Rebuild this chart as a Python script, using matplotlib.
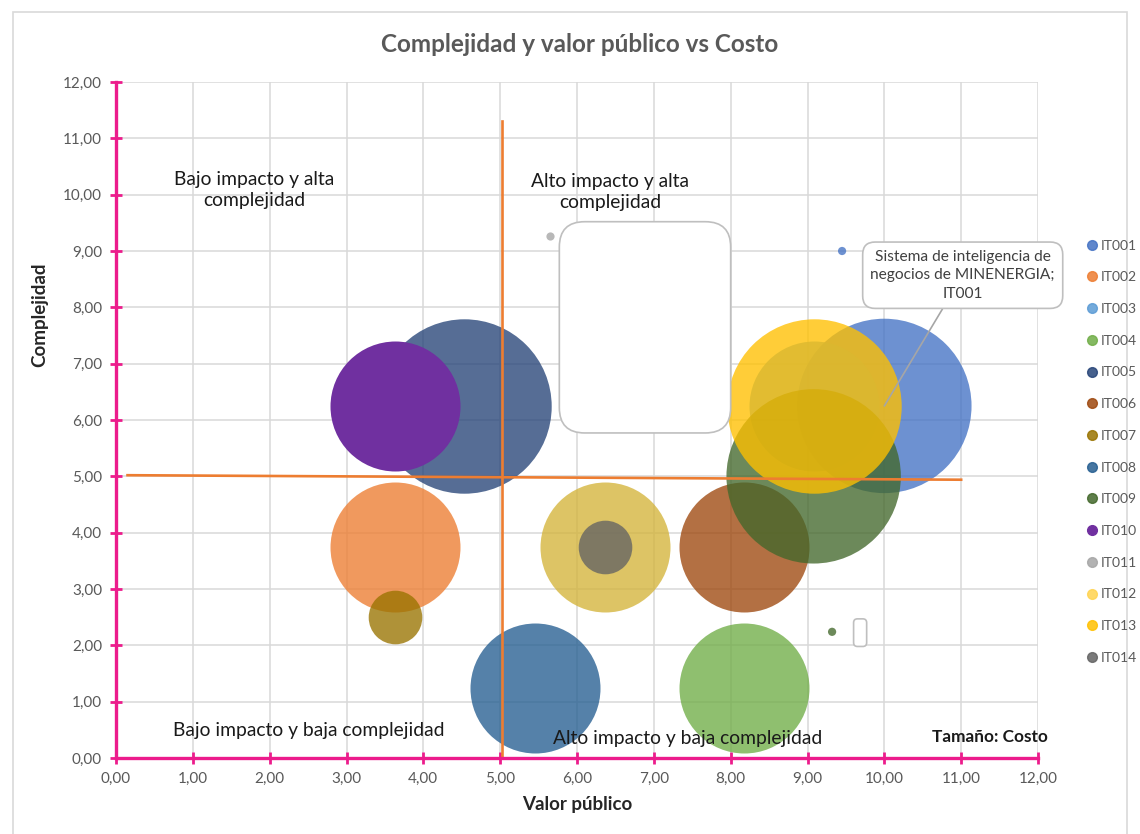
import numpy as np
import matplotlib.pyplot as plt
from matplotlib.lines import Line2D
from matplotlib.patches import FancyBboxPatch, Rectangle

plt.rcParams['font.family'] = ['Lato', 'DejaVu Sans']

# Series (proyectos) y colores de la leyenda
series = ['IT001', 'IT002', 'IT003', 'IT004', 'IT005', 'IT006', 'IT007',
          'IT008', 'IT009', 'IT010', 'IT011', 'IT012', 'IT013', 'IT014']
colores = ['#4472C4', '#ED7D31', '#5B9BD5', '#70AD47', '#264478', '#9E480E', '#997300',
           '#255E91', '#43682B', '#7030A0', '#A5A5A5', '#FFD34F', '#FFC000', '#636363']
# la burbuja de IT012 tiene un relleno distinto al de la leyenda
relleno_burbuja = {'IT012': '#D4B43A'}

# Puntos: serie, valor público (x), complejidad (y), costo (tamaño)
punto_serie = ['IT001', 'IT001', 'IT002', 'IT003', 'IT004', 'IT005', 'IT006', 'IT007',
               'IT008', 'IT009', 'IT009', 'IT010', 'IT011', 'IT012', 'IT013', 'IT014']
valor_publico = [10.0, 9.45, 3.63, 9.08, 8.17, 4.53, 8.17, 3.63,
                 5.45, 9.08, 9.32, 3.63, 5.65, 6.36, 9.08, 6.36]
complejidad = [6.25, 9.0, 3.75, 6.25, 1.25, 6.25, 3.75, 2.5,
               1.25, 5.0, 2.24, 6.25, 9.27, 3.75, 6.25, 3.75]
costo = [1800, 4, 1000, 1000, 1000, 1800, 1000, 170,
         1000, 1800, 4, 1000, 4, 1000, 1800, 170]

# Líneas que separan los cuadrantes
linea_h_x = [0.15, 11.0]
linea_h_y = [5.02, 4.94]
linea_v_x = [5.02, 5.02]
linea_v_y = [0.0, 11.3]

rosa = '#EC1C8C'
gris_texto = '#595959'

fig = plt.figure(figsize=(11.4, 8.34), dpi=100)
fig.patches.append(Rectangle((13 / 1140, -0.01), 1114 / 1140, 1 - 12 / 834 + 0.01,
                             transform=fig.transFigure, fill=False,
                             edgecolor='#D9D9D9', linewidth=1.2))
ax = fig.add_axes([116 / 1140, 76 / 834, 922 / 1140, 676 / 834])

# área de la burbuja proporcional al costo (costo 1000 -> radio de 65 px)
escala = (2 * 65 * 72 / 100) ** 2 / 1000
x = np.array(valor_publico)
y = np.array(complejidad)
c = np.array(costo)
serie_arr = np.array(punto_serie)
for nombre, col in zip(series, colores):
    m = serie_arr == nombre
    alfa = 1.0 if nombre == 'IT010' else 0.78
    ax.scatter(x[m], y[m], s=c[m] * escala, color=relleno_burbuja.get(nombre, col),
               alpha=alfa, linewidths=0, zorder=3)

ax.plot(linea_h_x, linea_h_y, color='#ED7D31', lw=1.9, zorder=5)
ax.plot(linea_v_x, linea_v_y, color='#ED7D31', lw=1.9, zorder=5)

# recuadros vacíos de etiquetas
for (bx, by, bw, bh, r) in [(5.77, 5.77, 2.23, 3.75, 0.33), (9.6, 1.98, 0.17, 0.49, 0.05)]:
    ax.add_patch(FancyBboxPatch((bx, by), bw, bh,
                                boxstyle=f'round,pad=0,rounding_size={r}',
                                mutation_aspect=76.8 / 56.33, facecolor='white',
                                edgecolor='#BFBFBF', linewidth=1.2, zorder=6))

ax.annotate('Sistema de inteligencia de\nnegocios de MINENERGIA;\nIT001',
            xy=(10.0, 6.25), xytext=(11.02, 8.57), ha='center', va='center',
            fontsize=11.2, color='#404040', linespacing=1.4, zorder=7,
            bbox=dict(boxstyle='round,pad=0.5,rounding_size=0.8', fc='white',
                      ec='#BFBFBF', lw=1.2),
            arrowprops=dict(arrowstyle='-', color='#A6A6A6', lw=1.2,
                            shrinkA=0, shrinkB=0))

# textos de cuadrante
ax.text(1.80, 10.08, 'Bajo impacto y alta\ncomplejidad', ha='center', va='center',
        fontsize=13.9, color='#1a1a1a', linespacing=1.3)
ax.text(6.43, 10.05, 'Alto impacto y alta\ncomplejidad', ha='center', va='center',
        fontsize=13.9, color='#1a1a1a', linespacing=1.3)
ax.text(0.74, 0.48, 'Bajo impacto y baja complejidad', ha='left', va='center',
        fontsize=13.9, color='#1a1a1a')
ax.text(5.69, 0.34, 'Alto impacto y baja complejidad', ha='left', va='center',
        fontsize=13.9, color='#1a1a1a', zorder=8)
ax.text(10.62, 0.37, 'Tamaño: Costo', ha='left', va='center', fontsize=12.4,
        fontweight='bold', color='#1a1a1a')

ax.set_xlim(0, 12)
ax.set_ylim(0, 12)
ticks = np.arange(0, 13, 1)
ax.set_xticks(ticks)
ax.set_yticks(ticks)
ax.set_xticklabels([f'{t:.2f}'.replace('.', ',') for t in ticks])
ax.set_yticklabels([f'{t:.2f}'.replace('.', ',') for t in ticks])
ax.tick_params(direction='inout', length=8, width=2, color=rosa, labelsize=11,
               labelcolor=gris_texto, pad=6)
ax.grid(True, color='#D9D9D9', lw=1.1, zorder=0)
ax.set_axisbelow(True)
for lado in ['top', 'right']:
    ax.spines[lado].set_visible(False)
for lado in ['left', 'bottom']:
    ax.spines[lado].set_color(rosa)
    ax.spines[lado].set_linewidth(2.4)
    ax.spines[lado].set_zorder(6)

ax.set_xlabel('Valor público', fontsize=13.5, fontweight='bold', color='#262626')
ax.xaxis.set_label_coords(0.5, -0.056)
ax.set_ylabel('Complejidad', fontsize=13.5, fontweight='bold', color='#262626')
ax.yaxis.set_label_coords(-0.074, 0.655)

fig.text(580 / 1140, 1 - 45 / 834, 'Complejidad y valor público vs Costo', ha='center',
         va='center', fontsize=17.5, fontweight='bold', color=gris_texto)

manejadores = [Line2D([], [], ls='', marker='o', ms=7, mfc=col, mec=col,
                      alpha=1.0 if s == 'IT010' else 0.85)
               for s, col in zip(series, colores)]
fig.legend(manejadores, series, loc='upper left', bbox_to_anchor=(1079 / 1140, 1 - 234 / 834),
           frameon=False, fontsize=10, labelspacing=1.42, handletextpad=0.2,
           handlelength=1.0, labelcolor=gris_texto, borderaxespad=0)

fig.savefig('out.png', dpi=100)
